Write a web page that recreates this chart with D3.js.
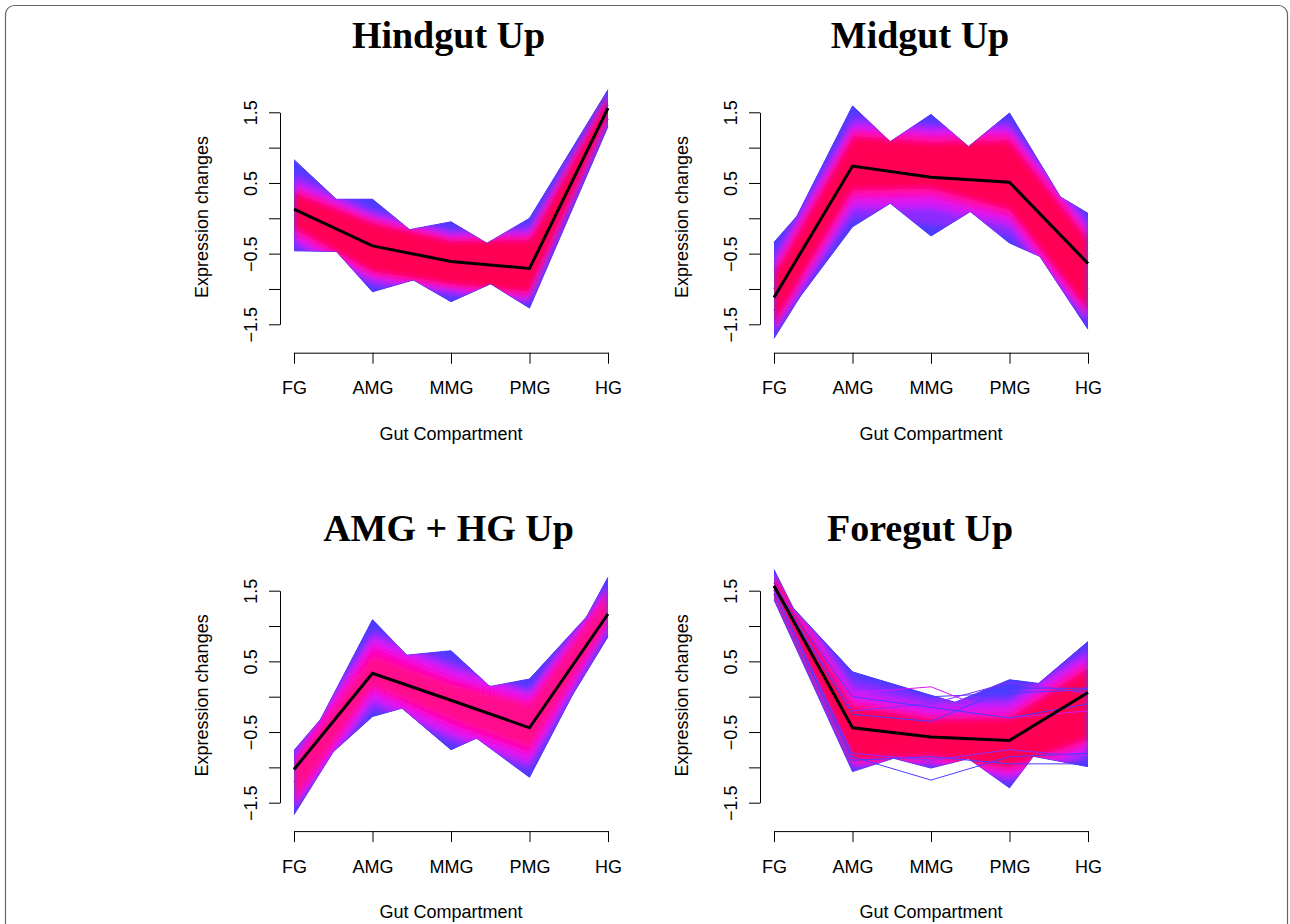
<!DOCTYPE html>
<html>
<head>
<meta charset="utf-8">
<script src="https://cdn.jsdelivr.net/npm/d3@7"></script>
<style>
body { margin: 0; background: #fff; }
.axis text { font-family: "Liberation Sans", Arial, sans-serif; font-size: 18px; fill: #000; }
.axis path, .axis line { stroke: #000; stroke-width: 1; }
.lab { font-family: "Liberation Sans", Arial, sans-serif; font-size: 18px; fill: #000; }
.title { font-family: "Liberation Serif", "Times New Roman", serif; font-size: 38px; font-weight: bold; fill: #000; }
</style>
</head>
<body>
<script>
const categories = ["FG", "AMG", "MMG", "PMG", "HG"];
const yTicks = [-1.5, -1, -0.5, 0, 0.5, 1, 1.5];
const yTickLabels = ["\u22121.5", "", "\u22120.5", "", "0.5", "", "1.5"];
const titles = ["Hindgut Up", "Midgut Up", "AMG + HG Up", "Foregut Up"];

// centroid (black line) of each cluster
const hindgutCentroid = [0.13, -0.39, -0.61, -0.71, 1.56];
const midgutCentroid = [-1.12, 0.74, 0.58, 0.51, -0.64];
const amgHgCentroid = [-1.03, 0.33, -0.05, -0.44, 1.17];
const foregutCentroid = [1.57, -0.44, -0.57, -0.62, 0.06];

// outermost (low membership) profiles, they make the edge of each bundle
const hindgutOuter = [
  [-0.46, -0.48, -0.80, -0.95, 1.40],
  [0.20, -1.04, -0.72, -0.90, 1.40],
  [-0.30, -0.54, -1.18, -0.68, 1.40],
  [-0.30, -0.60, -0.58, -1.27, 1.30],
  [0.00, -0.30, -0.65, 0.00, 1.82],
  [0.00, -0.26, -0.05, -0.71, 1.55],
  [0.27, 0.27, -0.64, -0.60, 1.60],
  [0.83, -0.21, -0.40, -0.55, 1.60]
];
const midgutOuter = [
  [-1.70, 0.08, 0.50, 0.40, -1.00],
  [-1.60, -0.12, 0.57, 0.45, -1.00],
  [-1.30, 0.64, -0.25, 0.44, -0.80],
  [-1.30, 0.60, 0.54, -0.35, -0.84],
  [-1.30, 0.60, 0.50, 0.11, -1.57],
  [-1.00, 0.70, 0.60, 0.73, 0.07],
  [-1.00, 0.70, 0.58, 1.49, -0.34],
  [-1.00, 0.73, 1.47, 0.52, -0.50],
  [-0.61, 1.59, 0.54, 0.60, -0.50],
  [-0.34, 0.93, 0.80, 0.70, -0.50]
];
const amgHgOuter = [
  [-1.67, 0.11, 0.00, -0.30, 1.10],
  [-1.28, -0.28, 0.03, -0.40, 1.10],
  [-1.20, 0.19, -0.75, -0.25, 1.10],
  [-1.20, 0.10, -0.32, -1.14, 0.99],
  [-1.20, 0.10, -0.30, -0.97, 0.85],
  [-1.00, 0.30, 0.00, -0.36, 1.69],
  [-1.00, 0.30, 0.04, 0.25, 1.46],
  [-1.00, 0.54, 0.65, -0.37, 1.20],
  [-1.04, 1.09, -0.06, -0.20, 1.20],
  [-0.76, 0.54, 0.30, 0.00, 1.30]
];
const foregutOuter = [
  [1.37, -1.06, -0.70, -0.70, -0.50],
  [1.45, -0.72, -1.01, -0.73, -0.60],
  [1.45, -0.70, -0.50, -1.29, 0.18],
  [1.45, -0.80, -0.80, -0.78, -0.99],
  [1.60, -0.40, -0.30, -0.16, 0.78],
  [1.60, -0.30, -0.22, 0.24, 0.10],
  [1.53, 0.35, 0.02, -0.30, 0.10],
  [1.80, -0.42, -0.50, -0.60, 0.30]
];

// inner bands, [lower, upper] per membership level (low -> high)
const hindgutBands = [
  [[-0.42, -0.97, -1.10, -1.22, 1.33], [0.66, 0.13, -0.15, -0.10, 1.79]],
  [[-0.33, -0.88, -1.04, -1.16, 1.37], [0.53, 0.05, -0.22, -0.19, 1.77]],
  [[-0.24, -0.82, -0.99, -1.11, 1.39], [0.44, 0.00, -0.27, -0.24, 1.75]],
  [[-0.14, -0.76, -0.94, -1.05, 1.42], [0.36, -0.06, -0.31, -0.30, 1.72]]
];
const midgutBands = [
  [[-1.66, 0.00, -0.10, -0.25, -1.50], [-0.50, 1.45, 1.35, 1.38, -0.02]],
  [[-1.62, 0.15, 0.15, -0.10, -1.44], [-0.62, 1.33, 1.26, 1.28, -0.12]],
  [[-1.57, 0.28, 0.30, 0.02, -1.38], [-0.70, 1.25, 1.18, 1.20, -0.20]],
  [[-1.50, 0.40, 0.42, 0.12, -1.30], [-0.80, 1.16, 1.08, 1.10, -0.30]]
];
const amgHgBands = [
  [[-1.62, -0.18, -0.66, -1.05, 0.90], [-0.80, 0.95, 0.52, 0.12, 1.60]],
  [[-1.58, -0.05, -0.55, -0.95, 0.95], [-0.84, 0.85, 0.40, 0.05, 1.55]],
  [[-1.52, 0.08, -0.42, -0.82, 1.02], [-0.90, 0.72, 0.27, -0.05, 1.50]],
  [[-1.46, 0.16, -0.32, -0.72, 1.07], [-0.95, 0.58, 0.18, -0.12, 1.44]]
];
const foregutBands = [
  [[1.40, -1.02, -0.98, -1.22, -0.88], [1.77, 0.25, 0.00, 0.00, 0.70]],
  [[1.42, -0.98, -0.95, -1.15, -0.80], [1.76, 0.10, -0.12, -0.10, 0.60]],
  [[1.44, -0.94, -0.90, -1.07, -0.70], [1.74, -0.05, -0.25, -0.22, 0.50]],
  [[1.46, -0.90, -0.85, -1.00, -0.60], [1.72, -0.15, -0.32, -0.30, 0.40]]
];

// single stray genes in the foregut cluster and their membership level
const foregutStray = [
  [1.55, 0.35, 0.00, 0.05, 0.10],
  [1.50, -0.85, -1.18, -0.85, -0.80],
  [1.60, 0.05, 0.14, -0.30, -0.20],
  [1.50, -0.90, -0.85, -0.95, -0.95],
  [1.55, -0.20, -0.10, 0.20, 0.05],
  [1.50, -0.80, -0.90, -0.75, -0.85],
  [1.55, 0.00, -0.15, -0.30, -0.10],
  [1.55, -0.25, -0.35, 0.12, 0.12]
];
const foregutStrayLevel = [0, 0, 2, 0, 1, 1, 0, 0];

const redLevels = ["#4b3cff", "#8a2cff", "#d816f4", "#ff0ab4", "#ff0055"];
const pinkLevels = ["#4b3cff", "#8a2cff", "#e014f4", "#ff00c0", "#ff0a8c"];

const panels = [
  { centroid: hindgutCentroid, outer: hindgutOuter, bands: hindgutBands, stray: [], strayLevel: [], colors: redLevels },
  { centroid: midgutCentroid, outer: midgutOuter, bands: midgutBands, stray: [], strayLevel: [], colors: redLevels },
  { centroid: amgHgCentroid, outer: amgHgOuter, bands: amgHgBands, stray: [], strayLevel: [], colors: pinkLevels },
  { centroid: foregutCentroid, outer: foregutOuter, bands: foregutBands, stray: foregutStray, strayLevel: foregutStrayLevel, colors: redLevels }
];

const width = 1290;
const height = 924;
const svg = d3.select("body").append("svg").attr("width", width).attr("height", height);

svg.append("defs").append("filter")
  .attr("id", "soft").attr("x", "-10%").attr("y", "-10%").attr("width", "120%").attr("height", "120%")
  .append("feGaussianBlur").attr("stdDeviation", 3);

// figure frame
svg.append("rect")
  .attr("x", 5.5).attr("y", 5.5).attr("width", 1282).attr("height", 1000).attr("rx", 9)
  .attr("fill", "none").attr("stroke", "#666").attr("stroke-width", 1.2);

const x = d3.scalePoint().domain(categories).range([294, 608]);
const y = d3.scaleLinear().domain([-1.5, 1.5]).range([324.3, 112.3]);

const line = d3.line()
  .x((d, i) => x(categories[i]))
  .y(d => y(d));
const area = d3.area()
  .x((d, i) => x(categories[i]))
  .y0(d => y(d[0]))
  .y1(d => y(d[1]));
const strips = profiles => d3.pairs(profiles).map(([a, b]) => d3.zip(a, b));

const titleX = [448.5, 440];

panels.forEach((p, k) => {
  const col = k % 2, row = Math.floor(k / 2);
  const g = svg.append("g").attr("transform", "translate(" + (col * 480) + "," + (row * 478.4) + ")");

  // outer bundle
  g.selectAll(".outer").data(strips(p.outer)).join("path")
    .attr("d", area).attr("fill", p.colors[0]);
  g.selectAll(".edge").data(p.outer).join("path")
    .attr("d", line).attr("fill", "none").attr("stroke", p.colors[0]).attr("stroke-width", 1);

  // inner membership levels, softened and kept inside the outer bundle
  const clip = g.append("clipPath").attr("id", "clip" + k);
  clip.selectAll("path").data(strips(p.outer)).join("path").attr("d", area);
  const inner = g.append("g").attr("clip-path", "url(#clip" + k + ")")
    .append("g").attr("filter", "url(#soft)");
  p.bands.forEach((b, j) => {
    inner.selectAll(".b" + j).data(strips(b)).join("path")
      .attr("class", "b" + j).attr("d", area).attr("fill", p.colors[j + 1]);
  });

  g.selectAll(".stray").data(p.stray).join("path")
    .attr("d", line).attr("fill", "none")
    .attr("stroke", (d, i) => p.colors[p.strayLevel[i]]).attr("stroke-width", 1);

  g.append("path").datum(p.centroid)
    .attr("d", line).attr("fill", "none").attr("stroke", "#000").attr("stroke-width", 3);

  // axes
  const ya = g.append("g").attr("class", "axis").attr("transform", "translate(280,0)")
    .call(d3.axisLeft(y).tickValues(yTicks).tickSize(11).tickSizeOuter(0).tickFormat((d, i) => yTickLabels[i]));
  ya.selectAll(".tick text")
    .attr("transform", "rotate(-90)").attr("x", 0).attr("y", -23.5).attr("dy", 0)
    .attr("text-anchor", "middle");

  const xa = g.append("g").attr("class", "axis").attr("transform", "translate(0,352.7)")
    .call(d3.axisBottom(x).tickSize(11).tickSizeOuter(0));
  xa.selectAll(".tick text").attr("y", 41.5).attr("dy", 0);

  g.append("text").attr("class", "lab").attr("x", 451).attr("y", 439.5)
    .attr("text-anchor", "middle").text("Gut Compartment");
  g.append("text").attr("class", "lab").attr("transform", "translate(208,217) rotate(-90)")
    .attr("text-anchor", "middle").text("Expression changes");
  g.append("text").attr("class", "title").attr("x", titleX[col]).attr("y", 48 + row * 15)
    .attr("text-anchor", "middle").text(titles[k]);
});
</script>
</body>
</html>
